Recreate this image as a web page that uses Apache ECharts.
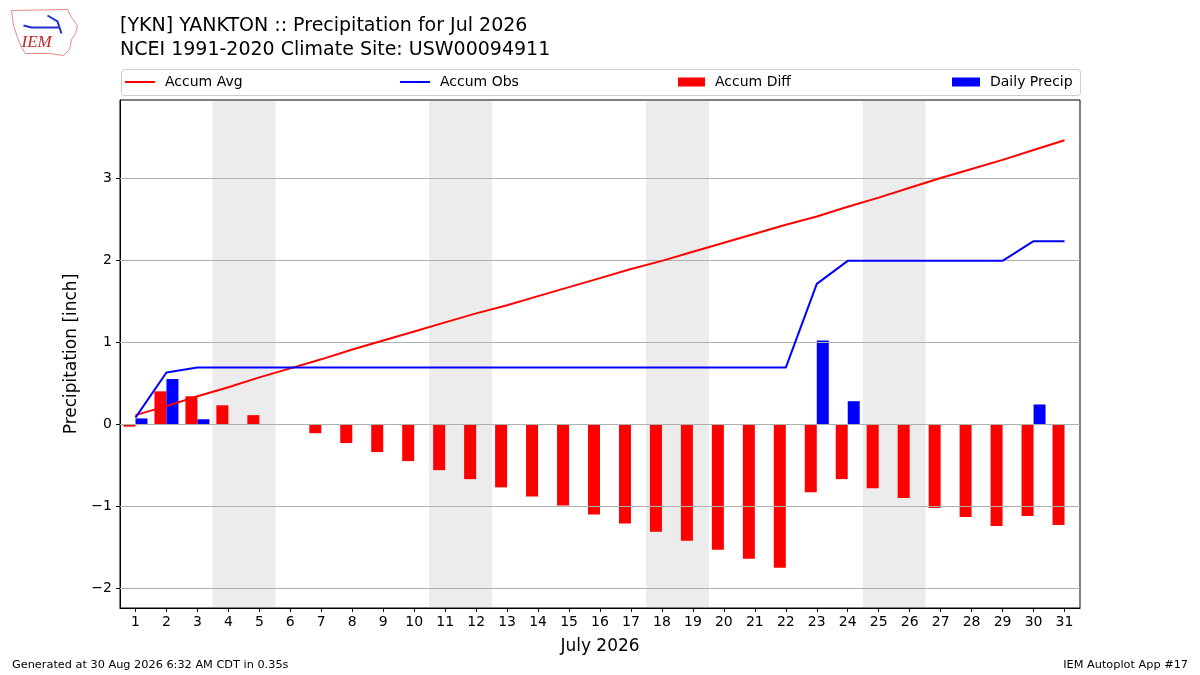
<!DOCTYPE html>
<html>
<head>
<meta charset="utf-8">
<title>YKN Precipitation Jul 2026</title>
<script src="https://cdn.jsdelivr.net/npm/echarts@6/dist/echarts.min.js"></script>
<style>
  html, body { margin: 0; padding: 0; background: #fff; }
  #chart { width: 1200px; height: 675px; }
</style>
</head>
<body>
<div id="chart"></div>
<script>
const days = ['1', '2', '3', '4', '5', '6', '7', '8', '9', '10', '11', '12', '13', '14', '15', '16',
  '17', '18', '19', '20', '21', '22', '23', '24', '25', '26', '27', '28', '29', '30', '31'];

const accumAvg = [0.11, 0.22, 0.34, 0.45, 0.57, 0.68, 0.79, 0.91, 1.02, 1.13, 1.24, 1.35, 1.45, 1.56, 1.67, 1.78,
  1.89, 1.99, 2.10, 2.21, 2.32, 2.43, 2.53, 2.65, 2.76, 2.88, 3.00, 3.11, 3.22, 3.34, 3.46];

const accumObs = [0.08, 0.63, 0.69, 0.69, 0.69, 0.69, 0.69, 0.69, 0.69, 0.69, 0.69, 0.69, 0.69, 0.69, 0.69, 0.69,
  0.69, 0.69, 0.69, 0.69, 0.69, 0.69, 1.71, 1.99, 1.99, 1.99, 1.99, 1.99, 1.99, 2.23, 2.23];

const accumDiff = [-0.03, 0.40, 0.34, 0.23, 0.11, 0.00, -0.11, -0.23, -0.34, -0.45, -0.56, -0.67, -0.77, -0.88, -0.99, -1.10,
  -1.21, -1.31, -1.42, -1.53, -1.64, -1.75, -0.83, -0.67, -0.78, -0.90, -1.02, -1.13, -1.24, -1.12, -1.23];

const dailyPrecip = [0.07, 0.55, 0.06, 0, 0, 0, 0, 0, 0, 0, 0, 0, 0, 0, 0, 0,
  0, 0, 0, 0, 0, 0, 1.02, 0.28, 0, 0, 0, 0, 0, 0.24, 0];

// weekend days get a grey band
const weekendDays = ['4', '5', '11', '12', '18', '19', '25', '26'];

const yTicks = [-2, -1, 0, 1, 2, 3];

const FONT = 'DejaVu Sans';

const chart = echarts.init(document.getElementById('chart'));

const legendBase = {
  top: 75,
  padding: 0,
  itemGap: 0,
  selectedMode: false,
  textStyle: { fontFamily: FONT, fontSize: 14, color: '#000', padding: [0, 0, 0, 5], lineHeight: 14 },
};

const option = {
  backgroundColor: '#fff',
  animation: false,
  textStyle: { fontFamily: FONT },
  grid: {
    left: 120,
    right: 120,
    top: 100,
    bottom: 67,
    show: true,
    borderColor: '#000',
    borderWidth: 1,
  },
  legend: [
    Object.assign({}, legendBase, {
      left: 125, data: [{ name: 'Accum Avg', icon: 'rect' }], itemWidth: 30, itemHeight: 2,
    }),
    Object.assign({}, legendBase, {
      left: 400, data: [{ name: 'Accum Obs', icon: 'rect' }], itemWidth: 30, itemHeight: 2,
    }),
    Object.assign({}, legendBase, {
      left: 678, data: [{ name: 'Accum Diff', icon: 'rect' }], itemWidth: 27, itemHeight: 9,
    }),
    Object.assign({}, legendBase, {
      left: 952, data: [{ name: 'Daily Precip', icon: 'rect' }], itemWidth: 28, itemHeight: 9,
    }),
  ],
  xAxis: {
    type: 'category',
    data: days,
    boundaryGap: true,
    name: 'July 2026',
    nameLocation: 'middle',
    nameGap: 30,
    nameTextStyle: { fontFamily: FONT, fontSize: 17, color: '#000' },
    axisLine: { show: true, onZero: false, lineStyle: { color: '#000', width: 1 } },
    axisTick: { show: true, alignWithLabel: true, length: 4, lineStyle: { color: '#000' } },
    axisLabel: { fontFamily: FONT, fontSize: 14, color: '#000', margin: 7, interval: 0 },
    splitLine: { show: false },
  },
  yAxis: {
    type: 'value',
    min: -2.24,
    max: 3.95,
    name: 'Precipitation [inch]',
    nameLocation: 'middle',
    nameGap: 29,
    nameTextStyle: { fontFamily: FONT, fontSize: 17, color: '#000' },
    axisLine: { show: true, onZero: false, lineStyle: { color: '#000', width: 1 } },
    axisTick: { show: true, length: 4, lineStyle: { color: '#000' }, customValues: yTicks },
    axisLabel: {
      fontFamily: FONT, fontSize: 14, color: '#000', margin: 8, customValues: yTicks,
      formatter: (v) => String(v).replace('-', '\u2212'),
    },
    splitLine: { show: false },
  },
  series: [
    {
      name: 'weekend',
      type: 'custom',
      z: 0,
      silent: true,
      data: weekendDays.map((d) => [d, 0]),
      encode: { x: 0, y: 1 },
      renderItem: (params, api) => {
        const x = api.coord([api.value(0), 0])[0];
        const w = api.size([1, 0])[0];
        const cs = params.coordSys;
        return {
          type: 'rect',
          shape: { x: x - w / 2 - 0.5, y: cs.y + 1, width: w + 1, height: cs.height - 2 },
          style: { fill: '#ececec' },
        };
      },
      markLine: {
        silent: true,
        symbol: 'none',
        label: { show: false },
        lineStyle: { color: '#b0b0b0', type: 'solid', width: 1 },
        data: yTicks.map((v) => ({ yAxis: v })),
      },
    },
    {
      name: 'Accum Diff',
      type: 'bar',
      data: accumDiff,
      barWidth: 12,
      barGap: '0%',
      z: 3,
      itemStyle: { color: '#ff0000' },
    },
    {
      name: 'Daily Precip',
      type: 'bar',
      data: dailyPrecip,
      barWidth: 12,
      barGap: '0%',
      z: 3,
      itemStyle: { color: '#0000ff' },
    },
    {
      name: 'Accum Avg',
      type: 'line',
      data: accumAvg,
      symbol: 'none',
      z: 5,
      itemStyle: { color: '#ff0000' },
      lineStyle: { color: '#ff0000', width: 2 },
    },
    {
      name: 'Accum Obs',
      type: 'line',
      data: accumObs,
      symbol: 'none',
      z: 5,
      itemStyle: { color: '#0000ff' },
      lineStyle: { color: '#0000ff', width: 2 },
    },
  ],
  graphic: [
    // legend frame
    {
      type: 'rect',
      left: 121,
      top: 69,
      shape: { width: 959, height: 26, r: 3 },
      style: { fill: 'rgba(255,255,255,0.8)', stroke: '#cccccc', lineWidth: 1 },
      z: -1,
    },
    {
      type: 'text',
      left: 120,
      top: 17,
      style: { text: '[YKN] YANKTON :: Precipitation for Jul 2026', font: '19px "DejaVu Sans"', fill: '#000' },
    },
    {
      type: 'text',
      left: 120,
      top: 41,
      style: { text: 'NCEI 1991-2020 Climate Site: USW00094911', font: '19px "DejaVu Sans"', fill: '#000' },
    },
    {
      type: 'text',
      left: 12,
      top: 660,
      style: { text: 'Generated at 30 Aug 2026 6:32 AM CDT in 0.35s', font: '11.3px "DejaVu Sans"', fill: '#000' },
    },
    {
      type: 'text',
      right: 12,
      top: 660,
      style: { text: 'IEM Autoplot App #17', font: '11.3px "DejaVu Sans"', fill: '#000' },
    },
    // rough IEM logo
    {
      type: 'group',
      left: 9,
      top: 7,
      children: [
        {
          type: 'polyline',
          shape: {
            points: [[2, 3], [58, 2], [62, 10], [68, 18], [66, 26], [62, 32], [60, 42], [54, 48],
              [40, 46], [16, 46], [12, 40], [8, 30], [4, 18], [2, 3]],
          },
          style: { stroke: '#e88a8a', lineWidth: 1, fill: 'none' },
        },
        {
          type: 'polyline',
          shape: { points: [[14, 18], [22, 20], [50, 20]] },
          style: { stroke: '#2233cc', lineWidth: 2, fill: 'none' },
        },
        {
          type: 'polyline',
          shape: { points: [[38, 8], [48, 14], [52, 26]] },
          style: { stroke: '#2233cc', lineWidth: 2, fill: 'none' },
        },
        {
          type: 'text',
          left: 12,
          top: 27,
          style: { text: 'IEM', font: 'italic 17px "Liberation Serif"', fill: '#cc2222' },
        },
      ],
    },
  ],
};

chart.setOption(option);
</script>
</body>
</html>
